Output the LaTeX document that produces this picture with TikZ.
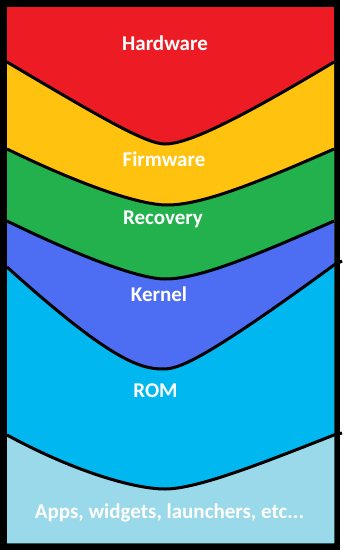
\documentclass[tikz,border=0pt]{standalone}
\usepackage{fontspec}
\setmainfont{Carlito}
\definecolor{cred}{HTML}{ED1C24}
\definecolor{cyel}{HTML}{FFC20E}
\definecolor{cgreen}{HTML}{22B14C}
\definecolor{cblue}{HTML}{4D6DF3}
\definecolor{ccyan}{HTML}{00B7EF}
\definecolor{clight}{HTML}{99D9EA}
\def\curveA{(7,62) .. controls (100,117) and (146,144) .. (165,144) .. controls (187,144) and (234,122) .. (334,62)}
\def\curveB{(7,149) .. controls (85,187) and (141,205) .. (167,205) .. controls (200,205) and (250,186) .. (334,149)}
\def\curveC{(7,221) .. controls (85,259) and (141,279) .. (165,279) .. controls (198,279) and (250,258) .. (334,221)}
\def\curveD{(7,267) .. controls (110,360) and (140,369) .. (163,369) .. controls (178,369) and (200,363) .. (334,265)}
\def\curveE{(7,435) .. controls (75,472) and (135,489) .. (165,489) .. controls (198,489) and (265,462) .. (334,435)}
\begin{document}
\begin{tikzpicture}[x=1pt,y=-1pt,
  layerline/.style={draw=black,line width=3pt},
  layerlabel/.style={text=white,anchor=base,inner sep=0pt,font=\fontsize{21}{25}\selectfont\bfseries}]
\useasboundingbox (0,0) rectangle (343,551);
% frame
\fill[black] (0,0) rectangle (340,549.5);
\fill[cred] (7,7) rectangle (334,543);
% layers
\fill[cyel] \curveA -- (334,543) -- (7,543) -- cycle;
\fill[cgreen] \curveB -- (334,543) -- (7,543) -- cycle;
\fill[cblue] \curveC -- (334,543) -- (7,543) -- cycle;
\fill[ccyan] \curveD -- (334,543) -- (7,543) -- cycle;
\fill[clight] \curveE -- (334,543) -- (7,543) -- cycle;
% boundary lines
\draw[layerline] \curveA;
\draw[layerline] \curveB;
\draw[layerline] \curveC;
\draw[layerline] \curveD -- (342,261);
\draw[layerline] \curveE -- (342,433);
% labels
\node[layerlabel] (hw) at (165,51) {Hardware};
\node[layerlabel] (fw) at (164,166) {Firmware};
\node[layerlabel] (rec) at (163,224) {Recovery};
\node[layerlabel] (ker) at (159,301) {Kernel};
\node[layerlabel] (rom) at (155.5,397) {ROM};
\node[layerlabel] (apps) at (169.5,518.5) {Apps, widgets, launchers, etc...};
\end{tikzpicture}
\end{document}
